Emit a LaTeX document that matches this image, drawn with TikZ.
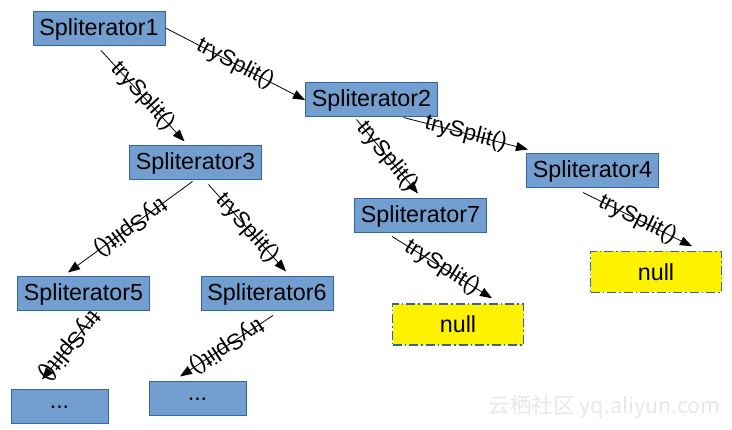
\documentclass[tikz,border=0pt]{standalone}
\usepackage{fontspec}
\setmainfont{Liberation Sans}
\newfontfamily\cjkfont{Noto Sans CJK SC}
\usetikzlibrary{arrows.meta}
\definecolor{boxfill}{HTML}{729FCF}
\definecolor{boxline}{HTML}{3465A4}
\definecolor{nullfill}{HTML}{FFF200}
\definecolor{wmark}{HTML}{E8E8E8}
\begin{document}
\begin{tikzpicture}[x=1pt,y=-1pt,
 sbox/.style={draw=boxline, fill=boxfill, line width=1pt, minimum width=132pt, minimum height=34pt, inner sep=0pt, font=\fontsize{23.3}{26}\selectfont},
 dbox/.style={sbox, minimum width=97pt},
 nbox/.style={draw=boxline, fill=nullfill, line width=1.5pt, dash pattern=on 9pt off 3pt on 1.5pt off 3pt, minimum width=131pt, minimum height=41pt, inner sep=0pt, font=\fontsize{23.3}{26}\selectfont},
 split/.style={-{Triangle[length=12pt,width=9pt]}, line width=0.8pt},
 lbl/.style={sloped, font=\fontsize{22.5}{26}\selectfont, inner sep=0pt},
 lblu/.style={lbl, allow upside down}]
\useasboundingbox (0,0) rectangle (732,430);
\node[sbox] (s1) at (99,29) {Spliterator1};
\node[sbox] (s2) at (371.5,100) {Spliterator2};
\node[sbox] (s3) at (195.5,163) {Spliterator3};
\node[sbox] (s4) at (592.5,171) {Spliterator4};
\node[sbox] (s7) at (420.5,216) {Spliterator7};
\node[sbox] (s5) at (83.5,294) {Spliterator5};
\node[sbox] (s6) at (267,294) {Spliterator6};
\node[nbox] (n2) at (656,272) {null};
\node[nbox] (n1) at (458,324.5) {null};
\node[dbox] (d1) at (59.5,407) {...};
\node[dbox] (d2) at (197.5,399) {...};
\draw[split] ([shift={(0,-1)}]s1.east) -- (s2.west) node[midway,lbl] {trySplit()};
\draw[split] ([shift={(2,4)}]s1.south) -- ([shift={(-11,-4)}]s3.north) node[midway,lbl] {trySplit()};
\draw[split] ([shift={(32,0)}]s2.south) -- ([shift={(2,-4)}]s4.north west) node[midway,lbl] {trySplit()};
\draw[split] ([shift={(-15,2)}]s2.south) -- ([shift={(-2.5,-5)}]s7.north) node[midway,lbl] {trySplit()};
\draw[split] ([shift={(-3,1)}]s3.south) -- ([shift={(-15.5,-4)}]s5.north) node[midway,lblu] {trySplit()};
\draw[split] ([shift={(13,4)}]s3.south) -- ([shift={(19,-5)}]s6.north) node[midway,lbl] {trySplit()};
\draw[split] ([shift={(13.5,1)}]s5.south) -- ([shift={(-17.5,-10)}]d1.north) node[midway,lblu] {trySplit()};
\draw[split] ([shift={(6,4)}]s6.south) -- ([shift={(-17.5,-5)}]d2.north) node[midway,lblu] {trySplit()};
\draw[split] ([shift={(-28.5,3)}]s7.south) -- ([shift={(34,-5)}]n1.north) node[midway,lbl] {trySplit()};
\draw[split] ([shift={(-9.5,4)}]s4.south) -- ([shift={(36,-4.5)}]n2.north) node[midway,lbl] {trySplit()};
\node[text=wmark, font=\cjkfont\fontsize{21.5}{24}\selectfont, anchor=east, inner sep=0pt] (wm) at (721,407) {云栖社区 yq.aliyun.com};
\end{tikzpicture}
\end{document}
